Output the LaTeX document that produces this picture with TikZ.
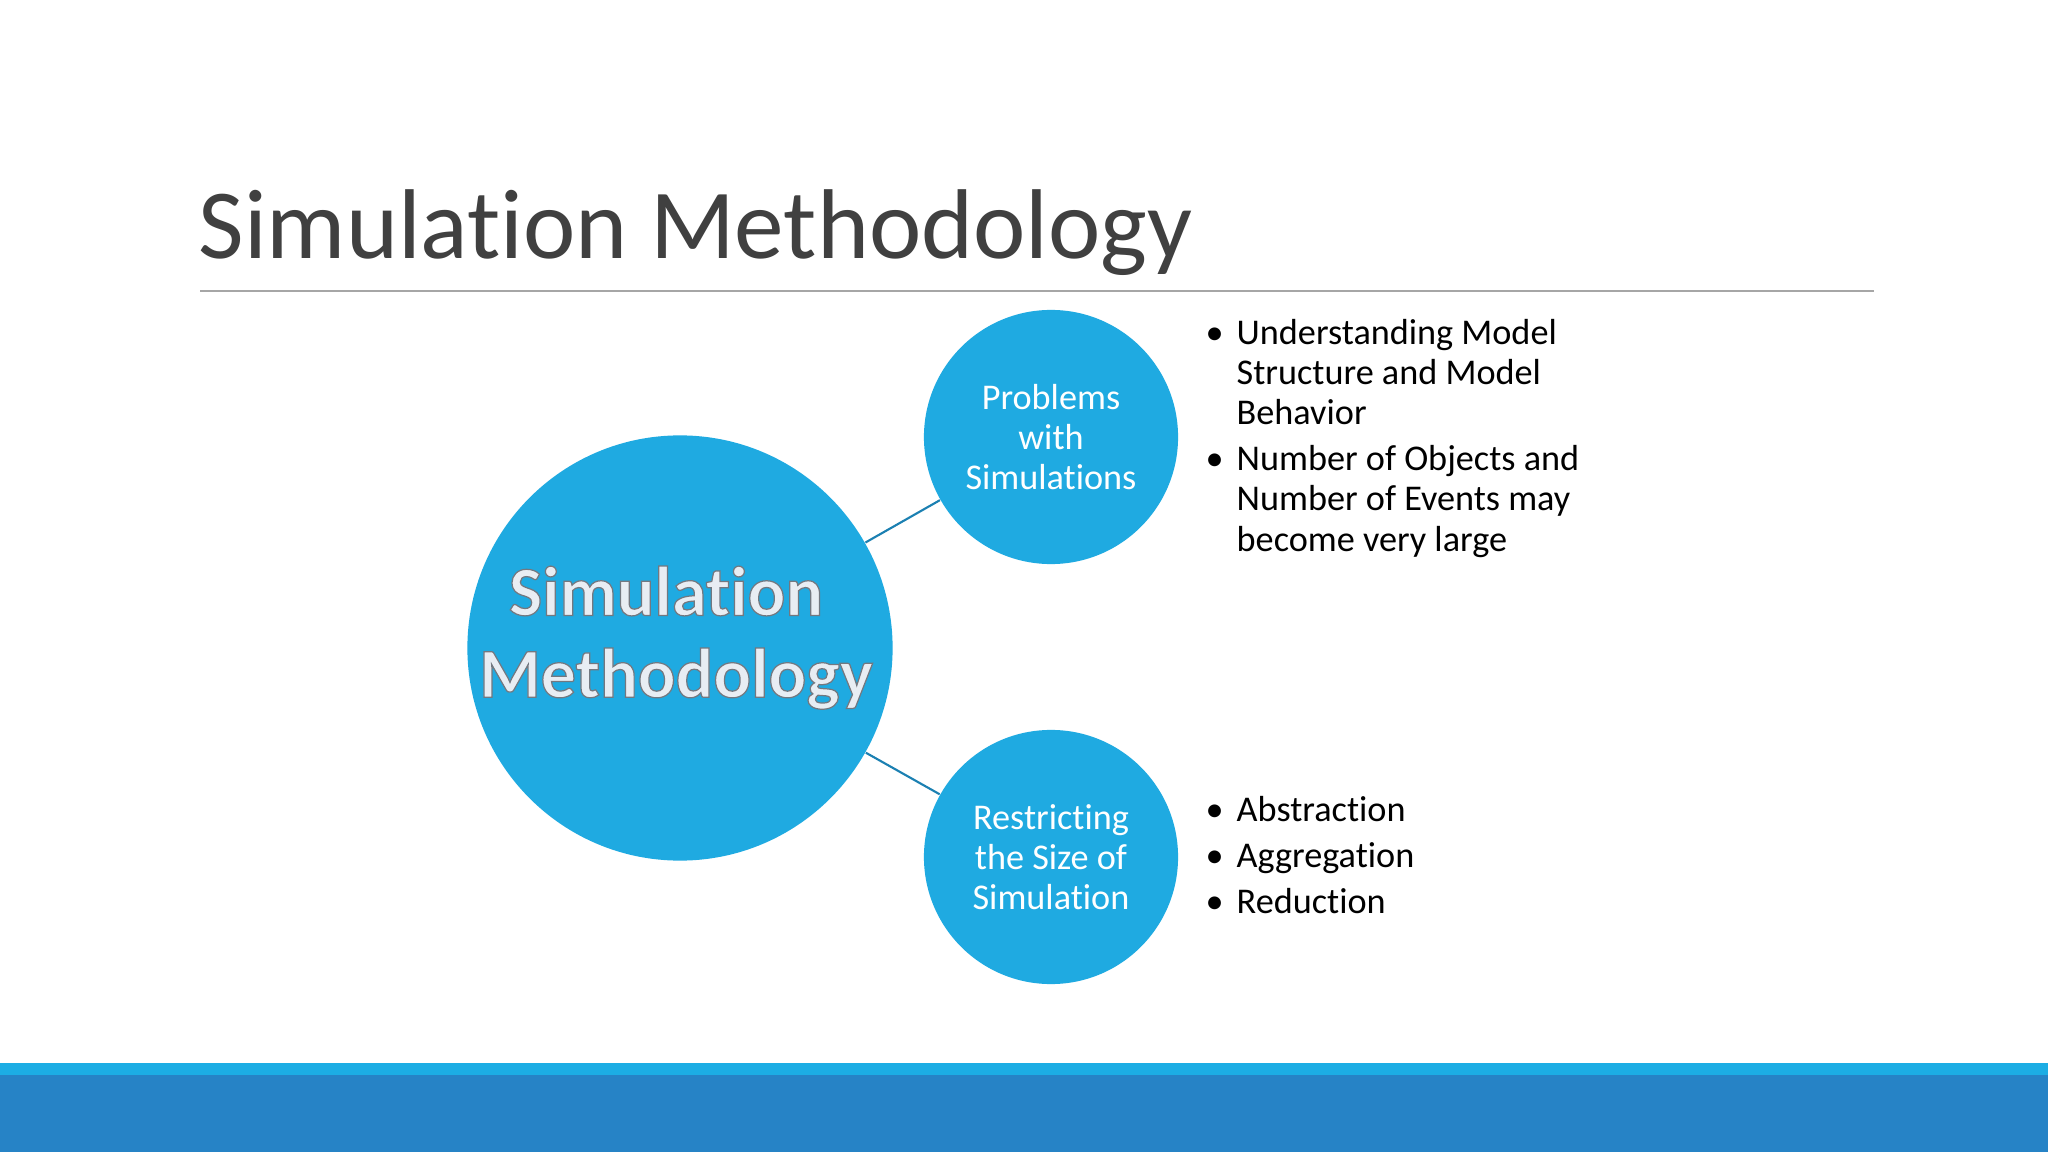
\documentclass[tikz,border=0pt]{standalone}
\usepackage{fontspec}
\setmainfont{Carlito}[Ligatures=NoCommon]
\usetikzlibrary{positioning}
\definecolor{bubble}{HTML}{1FAAE1}
\definecolor{linkblue}{HTML}{1B80B2}
\definecolor{titlegray}{HTML}{404040}
\definecolor{rulegray}{HTML}{A6A6A6}
\definecolor{bandlight}{HTML}{1CADE4}
\definecolor{banddark}{HTML}{2683C6}
\definecolor{bigtext}{HTML}{E8EDF3}
\newcommand{\dotmark}{\llap{\textbullet\hspace{0.13cm}}}
\newcommand{\outlined}[1]{\special{pdf:literal 2 Tr 0.45 0.47 0.5 RG 0.35 w}#1\special{pdf:literal 0 Tr}}

\begin{document}
\begin{tikzpicture}[x = 0.01cm, y = -0.01cm]
	\tikzstyle{bubbleStyle}=[shape = circle, fill = bubble, inner sep = 0pt, text = white, align = center]
	\tikzstyle{bigStyle}=[bubbleStyle, minimum size = 4.25cm]
	\tikzstyle{bigTextStyle}=[inner sep = 0pt, text = bigtext, align = center, font = \fontsize{20}{23.3}\selectfont\bfseries]
	\tikzstyle{smallStyle}=[bubbleStyle, minimum size = 2.54cm, font = \fontsize{10.3}{11.4}\selectfont]
	\tikzstyle{pointStyle}=[anchor = base west, align = left, inner sep = 0pt, font = \fontsize{10.3}{11.4}\selectfont]
	\tikzstyle{linkStyle}=[draw = linkblue, line width = 0.6pt]
	\useasboundingbox (0,0) rectangle (2048,1152);
	\fill[white] (0,0) rectangle (2048,1152);
	% title and rule
	\node[anchor = base west, inner sep = 0pt, text = titlegray, font = \fontsize{28.2}{34}\selectfont] (title) at (198,259) {Simulation Methodology};
	\coordinate (ruleL) at (200,291);
	\coordinate (ruleR) at (1874,291);
	\draw[rulegray, line width = 0.5pt] (ruleL) -- (ruleR);
	% bubbles
	\node[bigStyle] (method) at (680,648) {};
	\node[bigTextStyle] (methodText) at (676,640) {\outlined{\begin{tabular}{@{}c@{}}Simulation\kern0.2cm\\Methodology\end{tabular}}};
	\node[smallStyle] (problems) at (1051,437) {Problems\\with\\Simulations};
	\node[smallStyle] (restrict) at (1051,857) {Restricting\\the Size of\\Simulation};
	\draw[linkStyle] (method) -- (problems);
	\draw[linkStyle] (method) -- (restrict);
	% bullet points (anchored on last line)
	\node[pointStyle] (p1) at (1236,425) {\dotmark Understanding Model\\Structure and Model\\Behavior};
	\node[pointStyle] (p2) at (1236,551) {\dotmark Number of Objects and\\Number of Events may\\become very large};
	\node[pointStyle] (r1) at (1236,821) {\dotmark Abstraction};
	\node[pointStyle] (r2) at (1236,867) {\dotmark Aggregation};
	\node[pointStyle] (r3) at (1236,913) {\dotmark Reduction};
	% bottom bands
	\fill[bandlight] (0,1063) rectangle (2048,1075);
	\fill[banddark] (0,1075) rectangle (2048,1152);
\end{tikzpicture}
\end{document}
